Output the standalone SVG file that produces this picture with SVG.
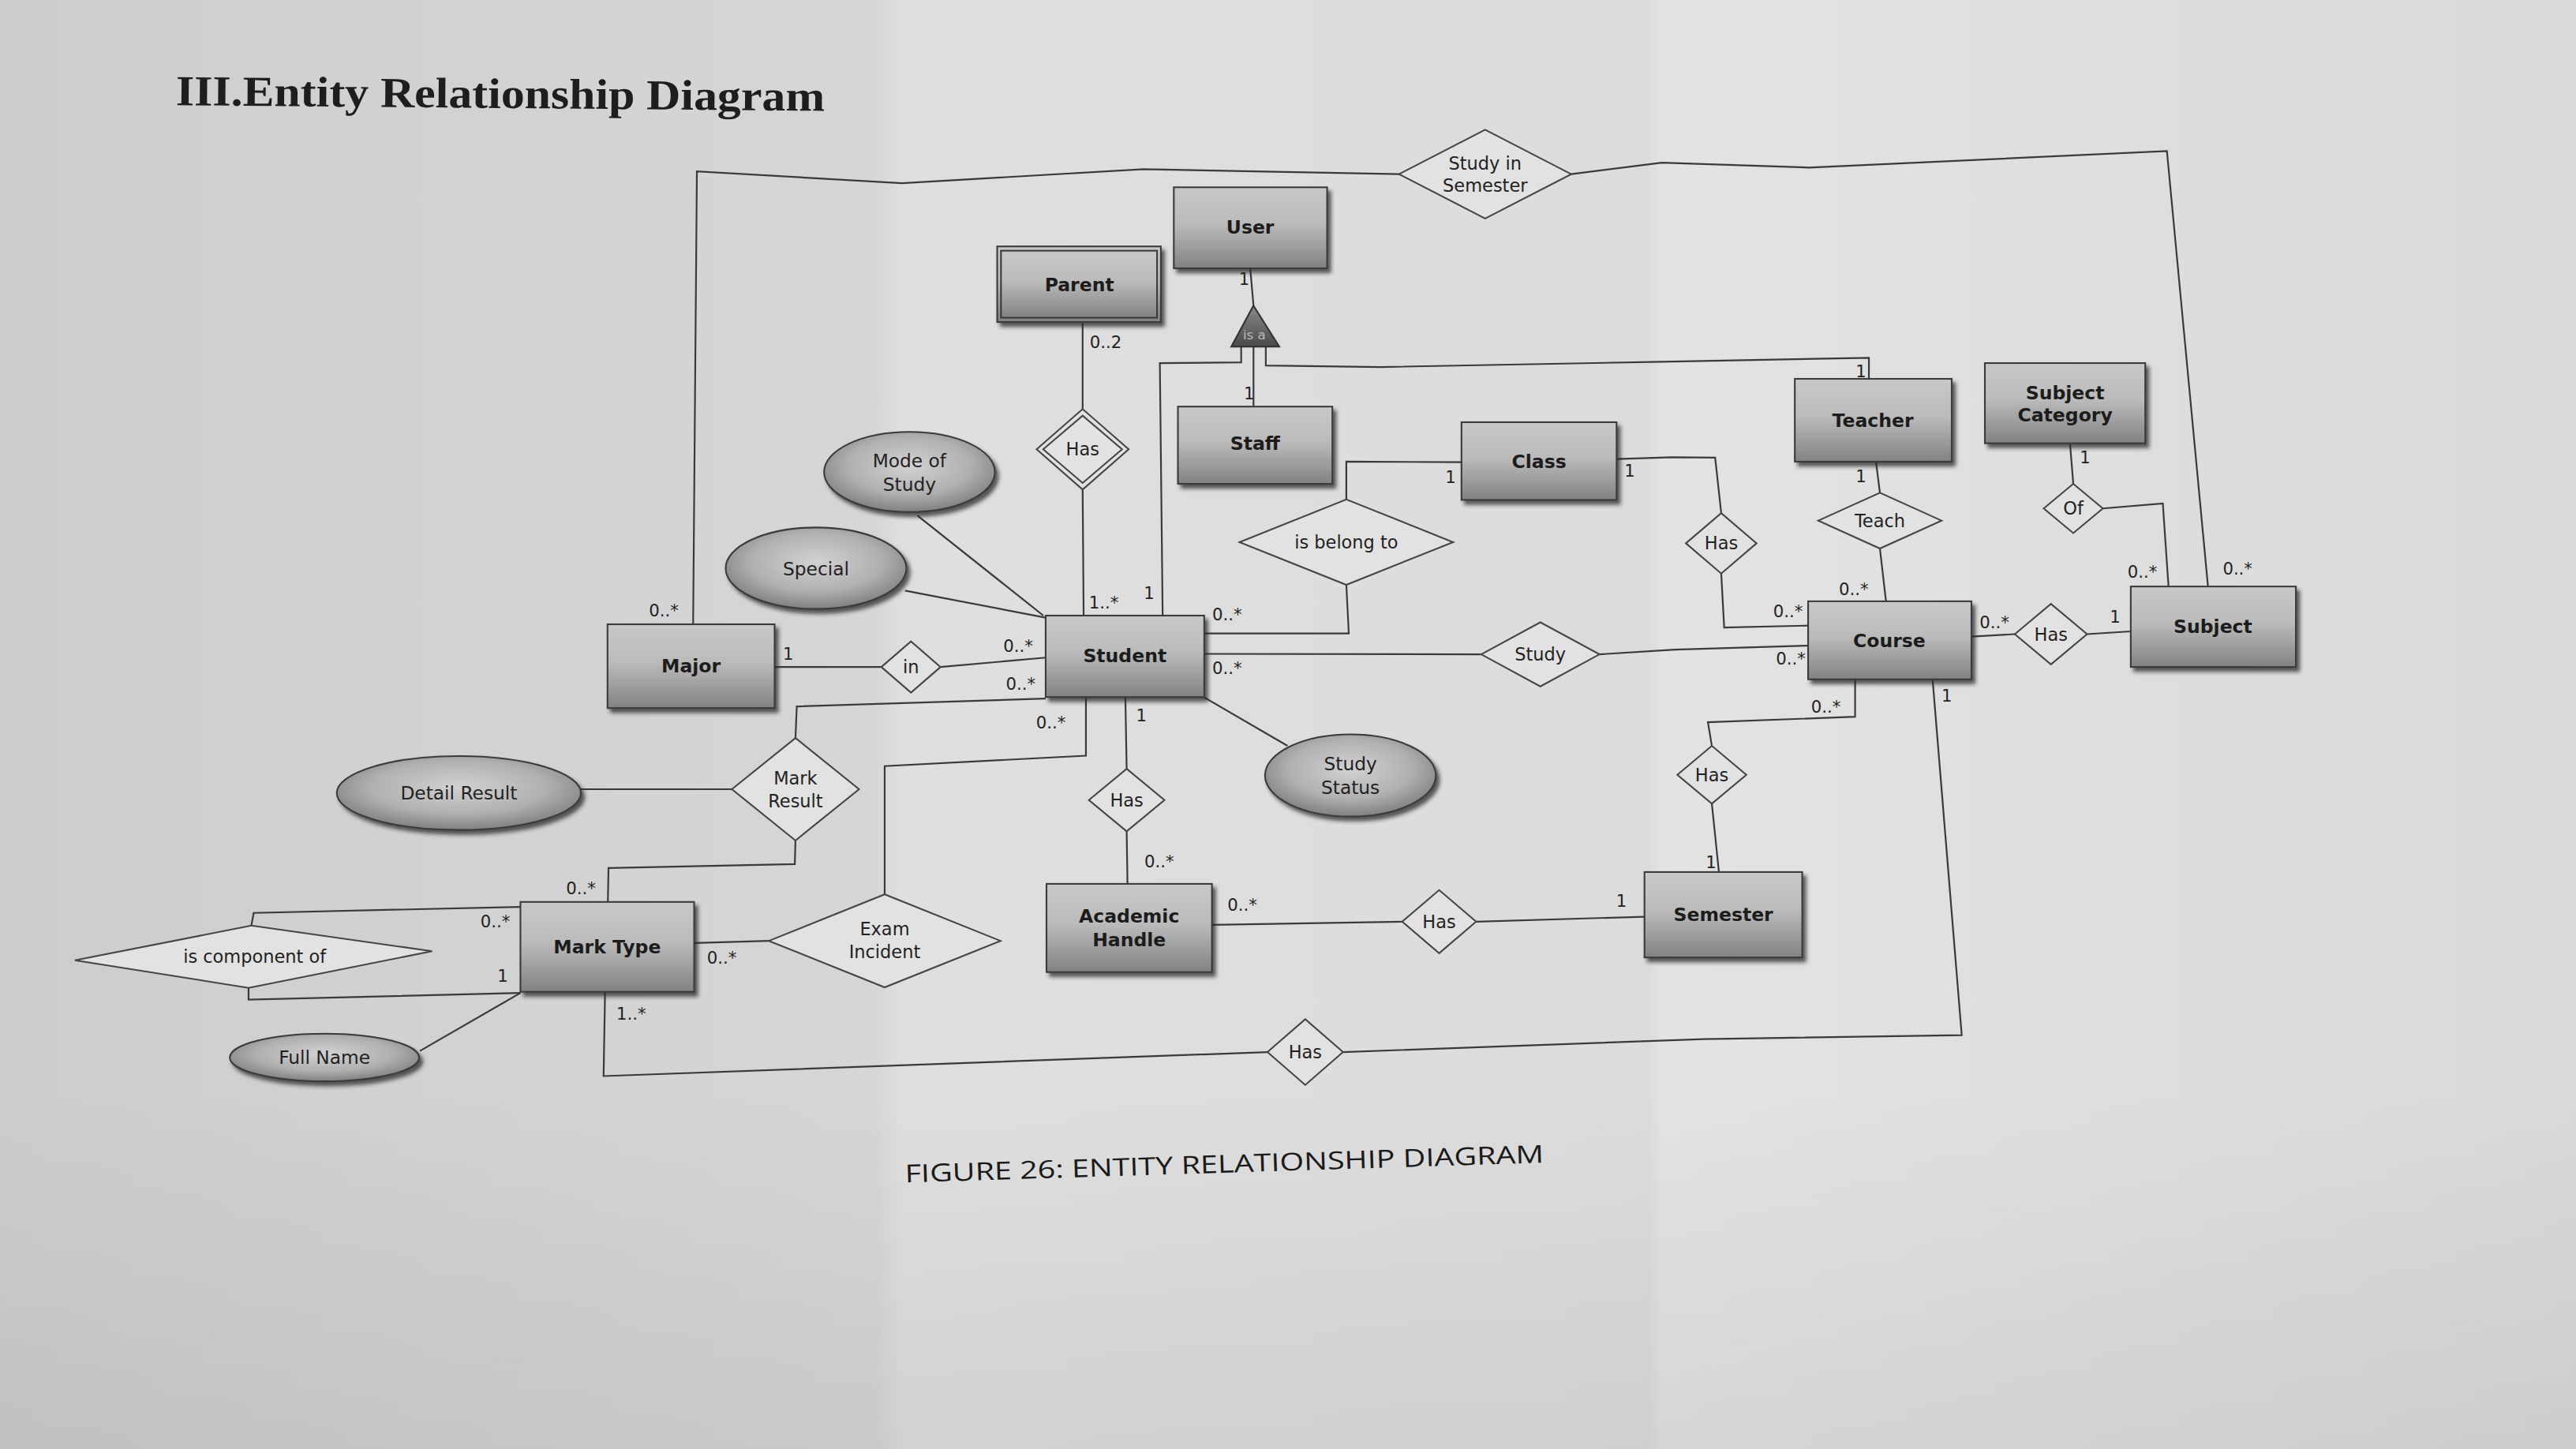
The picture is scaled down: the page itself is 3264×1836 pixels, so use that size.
<svg xmlns="http://www.w3.org/2000/svg" width="3264" height="1836" viewBox="0 0 3264 1836">
<defs>
<linearGradient id="bg" x1="0" y1="0" x2="1" y2="0">
<stop offset="0" stop-color="#cdcdcd"/>
<stop offset="0.34" stop-color="#d6d6d6"/>
<stop offset="0.35" stop-color="#dfdfdf"/>
<stop offset="0.64" stop-color="#dcdcdc"/>
<stop offset="0.645" stop-color="#e3e3e3"/>
<stop offset="1" stop-color="#d9d9d9"/>
</linearGradient>
<linearGradient id="bgv" x1="0" y1="0" x2="0" y2="1">
<stop offset="0" stop-color="#000" stop-opacity="0"/>
<stop offset="0.75" stop-color="#000" stop-opacity="0"/>
<stop offset="1" stop-color="#000" stop-opacity="0.06"/>
</linearGradient>
<linearGradient id="gEnt" x1="0" y1="0" x2="0" y2="1">
<stop offset="0" stop-color="#c8c8c8"/>
<stop offset="0.45" stop-color="#bbbbbb"/>
<stop offset="1" stop-color="#828282"/>
</linearGradient>
<radialGradient id="gAtt" cx="0.5" cy="0.42" r="0.6">
<stop offset="0" stop-color="#d2d2d2"/>
<stop offset="0.6" stop-color="#b0b0b0"/>
<stop offset="1" stop-color="#7c7c7c"/>
</radialGradient>
<linearGradient id="gTri" x1="0" y1="0" x2="0" y2="1">
<stop offset="0" stop-color="#8a8a8a"/>
<stop offset="1" stop-color="#4a4a4a"/>
</linearGradient>
<filter id="sh" x="-20%" y="-20%" width="150%" height="160%">
<feDropShadow dx="2" dy="2.5" stdDeviation="1.2" flood-color="#2a2a2a" flood-opacity="0.75"/>
</filter>
<style>
.ent rect{fill:url(#gEnt);stroke:#3a3a3a;stroke-width:1}
.ent .sh{filter:url(#sh)}
.att ellipse{fill:url(#gAtt);stroke:#3a3a3a;stroke-width:1;filter:url(#sh)}
.rel polygon{fill:#e2e2e2;stroke:#454545;stroke-width:1}
.conn polyline{fill:none;stroke:#3a3a3a;stroke-width:1.05}
.et{font-family:"DejaVu Sans",Verdana,sans-serif;font-weight:bold;font-size:11.3px;fill:#1c1c1c;text-anchor:middle;dominant-baseline:central}
.rt{font-family:"DejaVu Sans",Verdana,sans-serif;font-size:10.8px;fill:#222;text-anchor:middle;dominant-baseline:central}
.at{font-family:"DejaVu Sans",Verdana,sans-serif;font-size:11.2px;fill:#222;text-anchor:middle;dominant-baseline:central}
.ml{font-family:"DejaVu Sans",Verdana,sans-serif;font-size:10.2px;fill:#222;text-anchor:middle;dominant-baseline:central}
</style>
</defs>
<rect x="0" y="0" width="3264" height="1836" fill="url(#bg)"/>
<rect x="0" y="0" width="3264" height="1836" fill="url(#bgv)"/>
<g transform="scale(2.08163)">
<text x="107" y="64" transform="rotate(0.5 107 64)" font-family="'Liberation Serif',serif" font-weight="bold" font-size="26" fill="#1e1e1e" textLength="395" lengthAdjust="spacingAndGlyphs">III.Entity Relationship Diagram</text>

<g id="connectors" class="conn">
<polyline points="421.9,380 424.2,104.3 549,111.5 696,103 851.6,106"/>
<polyline points="956.4,106 1011.6,99 1101,102 1319,92 1344,357"/>
<polyline points="761,163.3 763,186"/>
<polyline points="763,211 763,247.5"/>
<polyline points="755.5,211 755.5,220.6 706,221 707.7,374.7"/>
<polyline points="770.5,211 770.5,222.5 840.7,223.4 1011.6,220.2 1137.6,217.8 1137.6,230.6"/>
<polyline points="659,196 659,249"/>
<polyline points="659,298 659.6,374.7"/>
<polyline points="558.5,313.9 635.1,374.7"/>
<polyline points="550.9,359.5 636.5,376"/>
<polyline points="889.6,281.3 819.5,281 819.5,304"/>
<polyline points="819.5,356 821,385.6 733,385.6"/>
<polyline points="984,279.4 1018,278.3 1044,278.6 1047.7,312.3"/>
<polyline points="1047.7,349.1 1049.5,382 1100.6,380.8"/>
<polyline points="733,398 901.6,398.3"/>
<polyline points="973.6,398.3 1019.4,395.4 1100.6,393"/>
<polyline points="1141.9,281 1144.3,299.9"/>
<polyline points="1144.3,333.9 1148,366"/>
<polyline points="1260,269.8 1262,294.5"/>
<polyline points="1280,309.5 1316.5,306.5 1320,357.5"/>
<polyline points="1200,387.5 1226.4,386"/>
<polyline points="1270.4,386 1297,384.3"/>
<polyline points="471.5,406 536.5,406"/>
<polyline points="572.5,406 636.5,400.3"/>
<polyline points="636.5,425.2 485,430 484.2,449.2"/>
<polyline points="445.5,480.4 353.6,480.4"/>
<polyline points="484.2,511.6 483.8,526 370.4,528.4 370,549"/>
<polyline points="661,424.3 661,460 538.5,466.3 538.5,544.4"/>
<polyline points="685,424.3 685.8,468"/>
<polyline points="685.8,506 686.3,538"/>
<polyline points="733,424.5 783.7,454"/>
<polyline points="422.5,574 468,572.7"/>
<polyline points="316.8,552 154.4,555.7 153,563.4"/>
<polyline points="151.3,601.3 151.3,608.5 316.8,604.4"/>
<polyline points="255.6,639.7 316.8,604.4"/>
<polyline points="368.3,603.7 367.4,655 771.5,640.4"/>
<polyline points="817.5,640.4 1037.2,632.5 1194.1,630.1 1176.4,414"/>
<polyline points="1129.2,413.5 1129.2,436.3 1039.6,439.6 1042,454"/>
<polyline points="1042,489.2 1046.3,530.8"/>
<polyline points="737.7,563 853.5,561"/>
<polyline points="898.5,561 1001,558"/>
<g id="multiplicities">
<text class="ml" x="404" y="371.5">0..*</text>
<text class="ml" x="1362" y="346">0..*</text>
<text class="ml" x="1304" y="348">0..*</text>
<text class="ml" x="757.3" y="169.7">1</text>
<text class="ml" x="673" y="208.2">0..2</text>
<text class="ml" x="760.3" y="239.4">1</text>
<text class="ml" x="699.5" y="361">1</text>
<text class="ml" x="671.9" y="366.7">1..*</text>
<text class="ml" x="1132.8" y="225.8">1</text>
<text class="ml" x="883" y="290.6">1</text>
<text class="ml" x="746.9" y="373.9">0..*</text>
<text class="ml" x="992" y="286.6">1</text>
<text class="ml" x="1088.4" y="372.3">0..*</text>
<text class="ml" x="746.9" y="406.7">0..*</text>
<text class="ml" x="1090" y="401">0..*</text>
<text class="ml" x="1132.8" y="289.8">1</text>
<text class="ml" x="1128.3" y="358.7">0..*</text>
<text class="ml" x="1269.2" y="278.6">1</text>
<text class="ml" x="1214" y="378.6">0..*</text>
<text class="ml" x="1287.5" y="375.5">1</text>
<text class="ml" x="479.8" y="398">1</text>
<text class="ml" x="619.7" y="393.1">0..*</text>
<text class="ml" x="621.3" y="416.4">0..*</text>
<text class="ml" x="639.7" y="439.6">0..*</text>
<text class="ml" x="694.8" y="435.6">1</text>
<text class="ml" x="705.6" y="524.4">0..*</text>
<text class="ml" x="756.2" y="550.9">0..*</text>
<text class="ml" x="987" y="548.5">1</text>
<text class="ml" x="1111.4" y="430">0..*</text>
<text class="ml" x="1185" y="423.6">1</text>
<text class="ml" x="1041.5" y="525">1</text>
<text class="ml" x="353.6" y="540.5">0..*</text>
<text class="ml" x="301.5" y="561">0..*</text>
<text class="ml" x="306" y="594">1</text>
<text class="ml" x="439.4" y="582.8">0..*</text>
<text class="ml" x="384.2" y="617.3">1..*</text>
</g>
</g>

<!-- Entities -->
<g id="user" class="ent"><rect class="sh" x="714.5" y="114" width="93.3" height="49.3"/><text class="et" x="761" y="138.5">User</text></g>
<g id="parent" class="ent"><rect class="sh" x="607" y="150" width="99.6" height="46"/><rect x="609.3" y="152.6" width="95" height="40.8"/><text class="et" x="657" y="173.5">Parent</text></g>
<g id="staff" class="ent"><rect class="sh" x="717" y="247.5" width="94" height="47"/><text class="et" x="764" y="270">Staff</text></g>
<g id="class" class="ent"><rect class="sh" x="889.6" y="257" width="94.4" height="47.3"/><text class="et" x="936.8" y="281">Class</text></g>
<g id="teacher" class="ent"><rect class="sh" x="1092.5" y="230.6" width="95.5" height="50.4"/><text class="et" x="1140" y="256">Teacher</text></g>
<g id="subject-category" class="ent"><rect class="sh" x="1208.2" y="221" width="97.6" height="48.8"/><text class="et" x="1257" y="239">Subject</text><text class="et" x="1257" y="252.5">Category</text></g>
<g id="major" class="ent"><rect class="sh" x="369.8" y="380" width="101.7" height="51"/><text class="et" x="420.6" y="405.5">Major</text></g>
<g id="student" class="ent"><rect class="sh" x="636.5" y="374.7" width="96.5" height="49.6"/><text class="et" x="684.7" y="399">Student</text></g>
<g id="course" class="ent"><rect class="sh" x="1100.6" y="366" width="99.4" height="47.5"/><text class="et" x="1150" y="390">Course</text></g>
<g id="subject" class="ent"><rect class="sh" x="1297" y="357" width="100.5" height="49"/><text class="et" x="1347" y="381.5">Subject</text></g>
<g id="mark-type" class="ent"><rect class="sh" x="316.8" y="549" width="105.7" height="54.7"/><text class="et" x="369.6" y="576.4">Mark Type</text></g>
<g id="academic-handle" class="ent"><rect class="sh" x="637" y="538" width="100.7" height="53.7"/><text class="et" x="687.3" y="557.5">Academic</text><text class="et" x="687.3" y="572">Handle</text></g>
<g id="semester" class="ent"><rect class="sh" x="1001" y="530.8" width="96" height="52"/><text class="et" x="1049" y="557">Semester</text></g>

<!-- Attributes -->
<g id="mode-of-study" class="att"><ellipse cx="553.6" cy="287.3" rx="52" ry="24.4"/><text class="at" x="553.6" y="280.5" font-size="10.5">Mode of</text><text class="at" x="553.6" y="294.5" font-size="10.5">Study</text></g>
<g id="special" class="att"><ellipse cx="496.7" cy="345.9" rx="55" ry="24.8"/><text class="at" x="496.7" y="345.9">Special</text></g>
<g id="detail-result" class="att"><ellipse cx="279.3" cy="482.7" rx="74.3" ry="22.5"/><text class="at" x="279.3" y="482.7">Detail Result</text></g>
<g id="study-status" class="att"><ellipse cx="822" cy="472" rx="52" ry="25"/><text class="at" x="822" y="465">Study</text><text class="at" x="822" y="479">Status</text></g>
<g id="full-name" class="att"><ellipse cx="197.5" cy="643.7" rx="57.6" ry="14.5"/><text class="at" x="197.5" y="643.7">Full Name</text></g>

<!-- Relationships -->
<g id="study-in-semester" class="rel"><polygon points="851.6,106 904,79 956.4,106 904,133"/><text class="rt" x="904" y="99.5">Study in</text><text class="rt" x="904" y="113">Semester</text></g>
<g id="has-parent" class="rel"><polygon points="631,273.5 659,249 687,273.5 659,298"/><polygon points="635,273.5 659,253 683,273.5 659,294"/><text class="rt" x="659" y="273.5">Has</text></g>
<g id="is-a"><polygon points="763,186 778.7,211 749.5,211" fill="url(#gTri)" stroke="#333" stroke-width="1"/><text x="763.5" y="204" font-family="'DejaVu Sans',sans-serif" font-size="8" fill="#b8b8b8" text-anchor="middle" dominant-baseline="central">is a</text></g>
<g id="is-belong-to" class="rel"><polygon points="754.5,330 819.5,304 884.5,330 819.5,356"/><text class="rt" x="819.5" y="330">is belong to</text></g>
<g id="has-class-course" class="rel"><polygon points="1026.2,330.7 1047.7,312.3 1069.2,330.7 1047.7,349.1"/><text class="rt" x="1047.7" y="330.7">Has</text></g>
<g id="teach" class="rel"><polygon points="1106.8,316.9 1144.3,299.9 1181.8,316.9 1144.3,333.9"/><text class="rt" x="1144.3" y="317">Teach</text></g>
<g id="of" class="rel"><polygon points="1244,309.5 1262,294.5 1280,309.5 1262,324.5"/><text class="rt" x="1262" y="309.5">Of</text></g>
<g id="in" class="rel"><polygon points="536.5,406 554.5,390.4 572.5,406 554.5,421.6"/><text class="rt" x="554.5" y="406">in</text></g>
<g id="study" class="rel"><polygon points="901.6,398.3 937.6,378.8 973.6,398.3 937.6,417.8"/><text class="rt" x="937.6" y="398.3">Study</text></g>
<g id="has-course-subject" class="rel"><polygon points="1226.4,386 1248.4,367.6 1270.4,386 1248.4,404.4"/><text class="rt" x="1248.4" y="386">Has</text></g>
<g id="mark-result" class="rel"><polygon points="445.5,480.4 484.2,449.2 522.9,480.4 484.2,511.6"/><text class="rt" x="484.2" y="473.5">Mark</text><text class="rt" x="484.2" y="487.5">Result</text></g>
<g id="has-student-handle" class="rel"><polygon points="662.8,487 685.8,468 708.8,487 685.8,506"/><text class="rt" x="685.8" y="487">Has</text></g>
<g id="has-course-semester" class="rel"><polygon points="1021,471.6 1042,454 1063,471.6 1042,489.2"/><text class="rt" x="1042" y="471.6">Has</text></g>
<g id="is-component-of" class="rel"><polygon points="45.6,584.5 153,563.4 263,579 151.3,601.3"/><text class="rt" x="155" y="582">is component of</text></g>
<g id="exam-incident" class="rel"><polygon points="468,572.7 538.5,544.4 609,572.7 538.5,601"/><text class="rt" x="538.5" y="565.5">Exam</text><text class="rt" x="538.5" y="579.5">Incident</text></g>
<g id="has-handle-semester" class="rel"><polygon points="853.5,561 876,541.8 898.5,561 876,580.2"/><text class="rt" x="876" y="561">Has</text></g>
<g id="has-marktype-course" class="rel"><polygon points="771.5,640.4 794.5,620.4 817.5,640.4 794.5,660.4"/><text class="rt" x="794.5" y="640.4">Has</text></g>

<text x="551" y="719.8" transform="rotate(-1.78 551 719.8)" font-family="'Open Sans','Liberation Sans',sans-serif" font-size="15" fill="#1a1a1a" textLength="389" lengthAdjust="spacingAndGlyphs">FIGURE 26: ENTITY RELATIONSHIP DIAGRAM</text>
</g>
</svg>
